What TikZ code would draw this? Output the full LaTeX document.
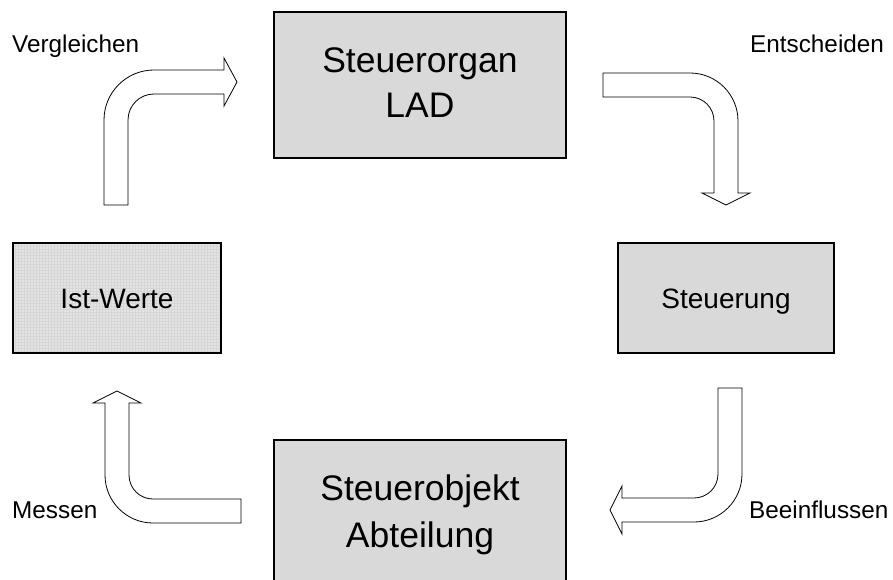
\documentclass[tikz,border=0pt]{standalone}
\usepackage{fontspec}
\setmainfont{Liberation Sans}
\definecolor{boxgray}{HTML}{D9D9D9}
\definecolor{istgray}{HTML}{E4E4E4}
\definecolor{gridgray}{HTML}{D6D6D6}
\begin{document}
\begin{tikzpicture}[x=1pt,y=-1pt,
  boxbase/.style={draw=black, line width=1.8pt, rectangle, inner sep=0pt},
  bigbox/.style={boxbase, fill=boxgray, minimum width=292pt},
  smallbox/.style={boxbase, minimum width=208pt, minimum height=110pt,
     font=\fontsize{28}{34}\selectfont, text height=20pt, text depth=0pt},
  bigtext/.style={inner sep=0pt, anchor=base, font=\fontsize{35.5}{42}\selectfont},
  labeltext/.style={inner sep=0pt, anchor=base west, font=\fontsize{24.3}{28}\selectfont},
  blockarrow/.style={draw=black, fill=white, line width=0.8pt, line join=miter}]
\useasboundingbox (0,0) rectangle (893,580);
\clip (0,0) rectangle (893,580);

% boxes
\node[bigbox, minimum height=146pt] (organ) at (420,85) {};
\node[bigtext] (organA) at (420,73) {Steuerorgan};
\node[bigtext] (organB) at (420,118) {LAD};

\node[bigbox, minimum height=148pt] (objekt) at (420,514) {};
\node[bigtext] (objektA) at (420,500) {Steuerobjekt};
\node[bigtext] (objektB) at (420,547) {Abteilung};

\node[smallbox, fill=istgray] (ist) at (117,298) {};
\begin{scope}
  \clip (13,243) rectangle (221,353);
  \draw[gridgray, line width=0.2pt, step=3pt] (13,243) grid (221,353);
\end{scope}
\node[smallbox] (istB) at (117,298) {Ist-Werte};

\node[smallbox, fill=boxgray, minimum width=216pt] (steuerung) at (726,298) {Steuerung};

% labels
\node[labeltext] (lv) at (12,53) {Vergleichen};
\node[labeltext] (le) at (750,53) {Entscheiden};
\node[labeltext] (lm) at (12,518) {Messen};
\node[labeltext] (lb) at (749,518) {Beeinflussen};

% block arrows
% Vergleichen (up then right)
\draw[blockarrow] (104,205) -- (104,120) .. controls (104,92.4) and (126.4,70) .. (154,70)
  -- (224,70) -- (224,58) -- (237,82) -- (224,106) -- (224,94) -- (154,94)
  .. controls (139.6,94) and (128,105.6) .. (128,120) -- (128,205) -- cycle;
% Entscheiden (right then down)
\draw[blockarrow] (603,73) -- (690,73) .. controls (716.5,73) and (738,94.5) .. (738,121)
  -- (738,193) -- (750,193) -- (726,205) -- (702,193) -- (714,193) -- (714,121)
  .. controls (714,107.7) and (703.3,97) .. (690,97) -- (603,97) -- cycle;
% Beeinflussen (down then left)
\draw[blockarrow] (718,388) -- (742,388) -- (742,474) .. controls (742,500.5) and (720.5,522) .. (694,522)
  -- (622,522) -- (622,534) -- (610,510) -- (622,486) -- (622,498) -- (694,498)
  .. controls (707.3,498) and (718,487.3) .. (718,474) -- cycle;
% Messen (left then up)
\draw[blockarrow] (241,499) -- (153,499) .. controls (139.7,499) and (129,488.3) .. (129,475)
  -- (129,403) -- (141,403) -- (117,391) -- (93,403) -- (105,403) -- (105,475)
  .. controls (105,501.5) and (126.5,523) .. (153,523) -- (241,523) -- cycle;
\end{tikzpicture}
\end{document}
